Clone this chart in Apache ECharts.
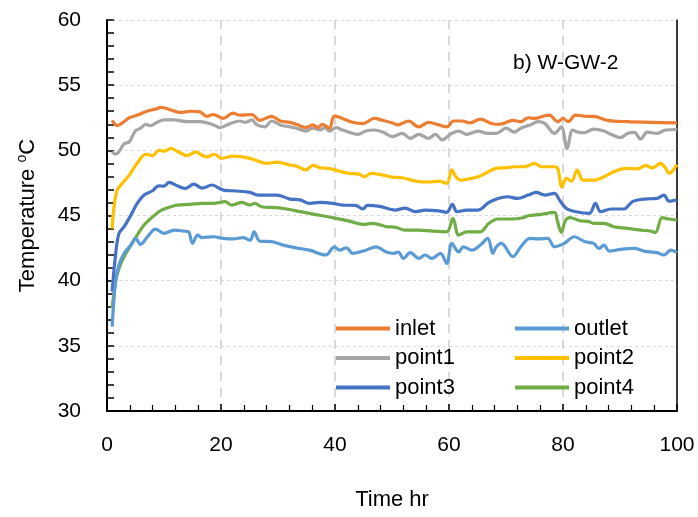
<!DOCTYPE html>
<html>
<head>
<meta charset="utf-8">
<script src="https://cdn.jsdelivr.net/npm/echarts@6/dist/echarts.min.js"></script>
<style>html,body{margin:0;padding:0;background:#fff;}#c{width:698px;height:517px;}</style>
</head>
<body>
<div id="c"></div>
<script>
var seriesNames = ['inlet', 'outlet', 'point1', 'point2', 'point3', 'point4'];
var xTicks = [0, 20, 40, 60, 80, 100];
var yTicks = [30, 35, 40, 45, 50, 55, 60];

var inlet = [[0.9,52.3],[1.8,51.9],[3,52.2],[3.9,52.5],[5,52.65],[5.9,52.8],[7,53.0],[8.8,53.2],[9.4,53.3],[11.2,53.1],[12.9,52.9],[14.7,53.0],[16.3,52.95],[17.5,52.6],[18.6,52.75],[20.4,52.45],[22.1,52.85],[23.3,52.7],[25.4,52.75],[26.8,52.3],[28.9,52.6],[30.4,52.25],[32.1,52.15],[33.2,52.0],[34.9,51.75],[36.1,51.95],[37,51.75],[37.8,52.0],[39,51.7],[39.9,52.65],[41.3,52.45],[43.1,52.15],[44.9,52.05],[46.9,52.45],[48.4,52.3],[50.1,52.1],[51,51.95],[52.9,52.25],[54.7,51.8],[56.4,52.15],[58.2,51.95],[59.6,51.8],[60.8,52.25],[62.3,52.25],[63.7,52.1],[65.5,52.4],[67.2,52.1],[68.3,52.0],[69.5,52.05],[71.2,52.3],[72.6,52.2],[73.9,52.5],[75,52.45],[76.8,52.65],[77.6,52.7],[79.1,52.2],[80,52.45],[80.9,52.2],[82.2,52.7],[84.4,52.6],[85.4,52.6],[87.8,52.3],[91.3,52.2],[95.4,52.15],[100,52.1]];
var outlet = [[0.9,36.47],[1.5,39.9],[2.1,41.2],[3,42.1],[4.2,42.73],[5,43.24],[5.9,42.78],[7.1,43.37],[8.5,43.96],[10,43.63],[11.8,43.88],[13.5,43.8],[14.3,43.75],[15,42.86],[15.9,43.5],[16.7,43.3],[18.7,43.37],[20.4,43.24],[22.1,43.2],[23.9,43.3],[25.1,43.1],[25.8,43.75],[26.8,43.04],[28.9,43.0],[30.9,42.73],[33.2,42.52],[35.5,42.34],[38.4,41.97],[39.9,42.6],[40.8,42.34],[42,42.52],[43.1,42.1],[45.4,42.34],[47.2,42.6],[49,42.2],[50.3,42.1],[51.1,42.2],[52,41.71],[53.2,42.15],[54.7,41.71],[55.8,41.97],[57,41.71],[58.5,42.1],[59.6,41.33],[60.5,42.86],[61.7,42.2],[62.5,42.6],[64,42.34],[65.5,42.73],[66.8,43.24],[67.7,42.1],[68.3,42.6],[69.2,42.86],[71.2,41.84],[72.6,42.6],[74.2,43.24],[75.6,43.2],[77.3,43.24],[78.5,42.6],[80.2,42.86],[82,43.37],[83.8,43.0],[85.4,42.86],[86.3,42.47],[87.2,42.73],[88.1,42.27],[90.1,42.4],[92.5,42.47],[94.2,42.27],[96.5,42.15],[97.7,41.97],[98.9,42.34],[100,42.15]];
var point1 = [[0.9,49.9],[1.5,49.7],[2.1,49.9],[3,50.5],[3.9,50.65],[5,51.5],[5.9,51.7],[6.8,52.0],[7.6,51.9],[8.8,52.15],[10,52.33],[11.8,52.33],[14.1,52.2],[16.3,52.2],[18.7,51.95],[19.8,51.75],[21.6,52.05],[23.3,52.25],[24.3,52.15],[25.4,52.33],[26.3,51.95],[27.7,51.8],[28.9,52.25],[30.4,51.95],[32.1,51.8],[33.2,51.7],[34.9,51.48],[36.1,51.7],[37.4,51.56],[38.2,51.74],[39,51.48],[40.2,51.74],[41.3,51.56],[42.5,51.38],[44,51.23],[45.4,51.48],[46.9,51.56],[48.4,51.4],[50.1,51.05],[51.8,51.3],[53.2,50.92],[54.7,51.23],[56.4,50.92],[57.6,51.23],[58.8,50.8],[60.2,51.23],[61.7,51.48],[63.1,51.23],[65.1,51.48],[66.8,51.3],[68.3,51.3],[70,51.7],[71.5,51.4],[72.6,51.7],[74.2,51.94],[75.6,52.2],[76.8,52.07],[78.5,51.3],[79.7,51.8],[80.7,50.15],[81.7,51.56],[82.6,51.4],[83.7,51.35],[85.4,51.63],[87.2,51.48],[88.4,51.23],[90.1,50.97],[91.3,51.3],[92.5,51.38],[93.6,50.87],[94.8,51.4],[96.5,51.3],[98,51.56],[100,51.6]];
var point2 = [[0.9,44.0],[1.2,45.55],[1.8,46.95],[2.7,47.47],[3.9,48.1],[5.3,49.0],[6.8,49.7],[8,49.6],[9.1,50.0],[10,49.93],[11.2,50.15],[12.3,49.93],[14.1,49.6],[15.6,49.88],[16.7,49.6],[17.5,49.5],[18.9,49.7],[20.1,49.38],[22.1,49.55],[25.1,49.38],[28,49.0],[29.8,49.1],[32.1,48.87],[33.2,48.8],[34.9,48.5],[36.1,48.85],[37.4,48.66],[39,48.6],[40.8,48.4],[42.5,48.23],[44.2,48.17],[45.2,47.97],[46.3,48.23],[48.4,48.1],[50,47.95],[51.8,47.9],[54.1,47.64],[56.4,47.57],[58.2,47.64],[59.6,47.47],[60.5,48.5],[61.2,47.97],[62,47.72],[63.4,47.8],[65.1,47.97],[66.4,48.23],[68.1,48.6],[69.8,48.66],[71.6,48.74],[73,48.74],[74.2,48.87],[75,49.0],[76.2,48.74],[78.5,48.74],[79.1,48.6],[79.8,47.2],[80.6,47.85],[81.5,47.64],[82.5,48.49],[83.5,47.72],[85.4,47.72],[87.2,47.97],[88.9,48.36],[91,48.62],[93,48.57],[94.5,48.82],[95.7,48.66],[97.1,49.0],[98,48.62],[98.6,48.23],[100,48.9]];
var point3 = [[0.9,39.15],[1.5,41.97],[2.1,43.63],[3,44.14],[4.2,45.03],[5.3,45.93],[6.5,46.57],[7.9,46.88],[9.1,47.28],[10,47.25],[10.9,47.54],[12.3,47.28],[13.8,47.08],[15.2,47.4],[16.7,47.1],[18.4,47.34],[20.4,46.95],[22.7,46.88],[25.1,46.77],[26.5,46.57],[29.8,46.57],[32.1,46.26],[33.9,46.2],[35.5,45.93],[37.4,46.0],[39.6,45.93],[41.3,45.8],[43.6,45.77],[44.9,45.5],[45.7,45.77],[47.8,45.7],[49.5,45.5],[50.5,45.42],[52.3,45.56],[54.1,45.29],[55.8,45.42],[58.2,45.36],[59.6,45.24],[60.6,45.85],[61.4,45.29],[63.1,45.42],[65.1,45.42],[67,46.0],[68.6,46.31],[70.3,46.44],[72,46.31],[73.9,46.57],[75.3,46.77],[76.8,46.57],[78.5,46.7],[79.4,46.18],[80.6,45.54],[82.3,45.29],[84.6,45.16],[85.7,45.93],[86.6,45.29],[88.4,45.5],[90.7,45.5],[92.2,46.06],[94.2,46.26],[96.5,46.31],[97.7,46.57],[98.6,46.1],[100,46.2]];
var point4 = [[0.9,37.87],[1.5,39.92],[2.1,40.94],[3,41.83],[4.2,42.73],[5.3,43.5],[6.5,44.27],[7.7,44.78],[9.1,45.29],[10,45.5],[11.2,45.67],[12.3,45.8],[14.5,45.85],[16.7,45.93],[18.7,45.93],[20.7,46.06],[21.9,45.8],[23.6,46.0],[25.1,45.8],[25.9,45.93],[27.1,45.67],[29.8,45.6],[31.5,45.5],[33.9,45.3],[35.5,45.16],[37.8,44.98],[40.2,44.78],[42.5,44.57],[44.9,44.32],[46.6,44.4],[49,44.14],[50.6,44.1],[52.3,43.88],[54.7,43.88],[57.1,43.8],[59.6,43.75],[60.7,44.78],[61.7,43.5],[63.1,43.75],[65.5,43.75],[67,44.4],[68.6,44.73],[71,44.73],[73,44.83],[73.9,44.98],[76.2,45.09],[78.5,45.24],[79,44.6],[79.7,43.7],[80.4,44.6],[81.2,44.83],[83,44.6],[84.4,44.55],[85.4,44.4],[87.2,44.4],[88.9,44.14],[91.3,44.01],[93.6,43.88],[95.4,43.8],[96.2,43.7],[97.4,44.83],[98.6,44.73],[100,44.65]];

var colors = ['#ED7D31', '#5B9BD5', '#A5A5A5', '#FFC000', '#4472C4', '#70AD47'];
var dataList = [inlet, outlet, point1, point2, point3, point4];
var FONT = 'Liberation Sans';

var chart = echarts.init(document.getElementById('c'), null, {renderer: 'canvas'});
var series = seriesNames.map(function (n, i) {
  return {
    name: n, type: 'line', data: dataList[i], showSymbol: false, symbol: 'none',
    smooth: 0.35, lineStyle: {color: colors[i], width: 3.2}, itemStyle: {color: colors[i]},
    z: 10 - i
  };
});
var legendCommon = {
  orient: 'vertical', icon: 'rect', itemWidth: 54, itemHeight: 4, itemGap: 6.5, padding: 0,
  textStyle: {fontFamily: FONT, fontSize: 22, color: '#000', lineHeight: 23}
};
chart.setOption({
  animation: false,
  backgroundColor: '#fff',
  color: colors,
  grid: {left: 107, right: 21, top: 20, bottom: 106, containLabel: false},
  legend: [
    Object.assign({left: 336, top: 317, data: ['inlet', 'point1', 'point3']}, legendCommon),
    Object.assign({left: 515, top: 317, data: ['outlet', 'point2', 'point4']}, legendCommon)
  ],
  graphic: [{type: 'text', left: 513, top: 53, style: {text: 'b) W-GW-2', fontFamily: FONT, fontSize: 21, fill: '#000'}}],
  xAxis: {
    type: 'value', min: xTicks[0], max: xTicks[xTicks.length - 1], interval: 20,
    name: 'Time hr', nameLocation: 'middle', nameGap: 78,
    nameTextStyle: {fontFamily: FONT, fontSize: 22, color: '#000'},
    axisLine: {show: true, onZero: false, lineStyle: {color: '#000', width: 2}},
    axisTick: {show: true, inside: true, length: 7, lineStyle: {color: '#000', width: 1.5}},
    minorTick: {show: true, splitNumber: 5, length: 6, lineStyle: {color: '#000', width: 1.2}},
    axisLabel: {margin: 24, fontFamily: FONT, fontSize: 21, color: '#000'},
    splitLine: {show: true, lineStyle: {color: '#D9D9D9', width: 2, type: [9, 7]}}
  },
  yAxis: [{
    type: 'value', min: yTicks[0], max: yTicks[yTicks.length - 1], interval: 5,
    name: 'Temperature {sup|o}C', nameLocation: 'middle', nameGap: 66, nameRotate: 90,
    nameTextStyle: {fontFamily: FONT, fontSize: 22, color: '#000', lineHeight: 26,
      rich: {sup: {fontFamily: FONT, fontSize: 14, color: '#000', verticalAlign: 'top', lineHeight: 26, padding: [0, 0, 10, 0]}}},
    axisLine: {show: true, onZero: false, lineStyle: {color: '#000', width: 2}},
    axisTick: {show: true, inside: true, length: 7, lineStyle: {color: '#000', width: 1.5}},
    minorTick: {show: true, splitNumber: 5, length: 7, lineStyle: {color: '#000', width: 1.5}},
    axisLabel: {margin: 26, fontFamily: FONT, fontSize: 21, color: '#000'},
    splitLine: {show: true, lineStyle: {color: '#D9D9D9', width: 1, type: [3, 3]}}
  }, {
    type: 'value', position: 'right', min: 30, max: 60, interval: 5,
    axisLine: {show: true, onZero: false, lineStyle: {color: '#000', width: 1.5}},
    axisTick: {show: false}, axisLabel: {show: false}, splitLine: {show: false}
  }],
  series: series
});
</script>
</body>
</html>
